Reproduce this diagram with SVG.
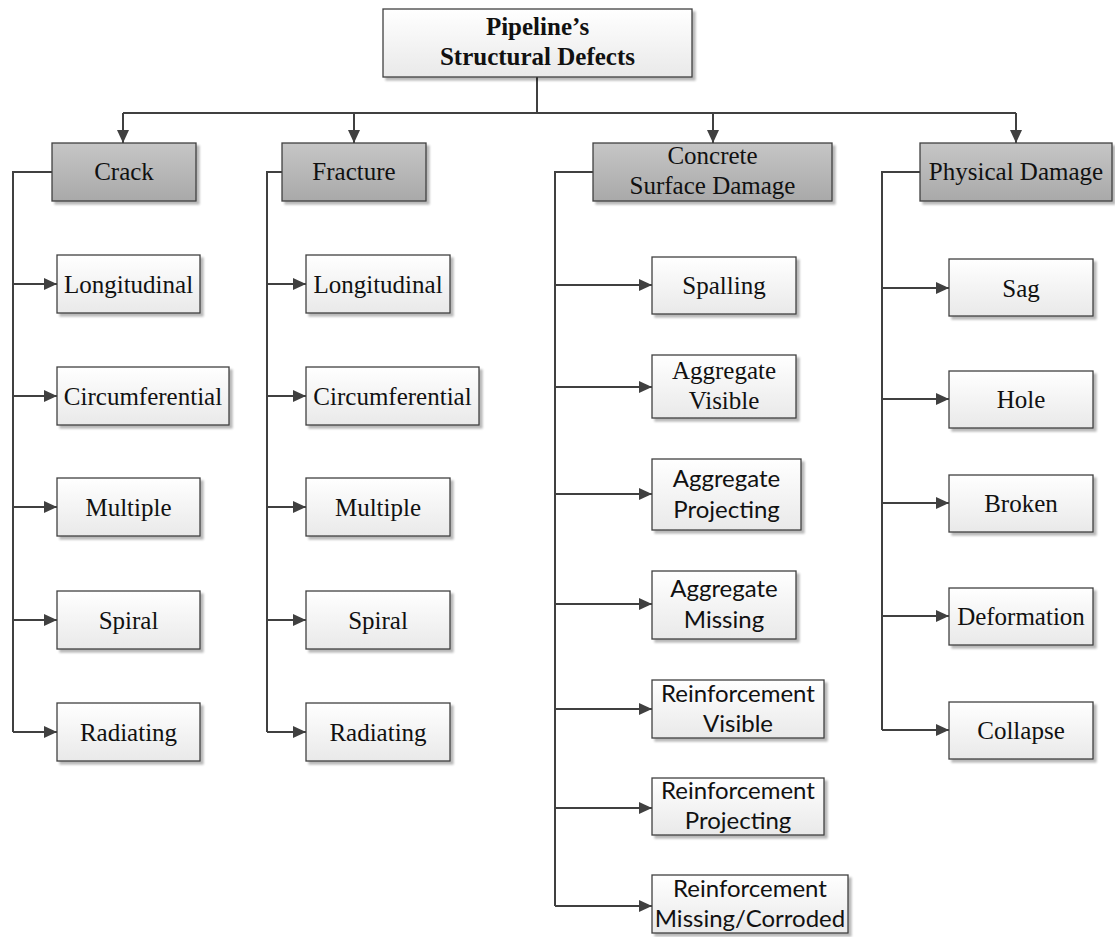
<svg xmlns="http://www.w3.org/2000/svg" width="1115" height="937" viewBox="0 0 1115 937">
  <defs>
    <linearGradient id="gLight" x1="0" y1="0" x2="0" y2="1">
      <stop offset="0" stop-color="#ffffff"/>
      <stop offset="1" stop-color="#e9e9e9"/>
    </linearGradient>
    <linearGradient id="gDark" x1="0" y1="0" x2="0" y2="1">
      <stop offset="0" stop-color="#c6c6c6"/>
      <stop offset="1" stop-color="#a9a9a9"/>
    </linearGradient>
    <filter id="shadow" x="-10%" y="-10%" width="130%" height="140%">
      <feGaussianBlur in="SourceAlpha" stdDeviation="1"/>
      <feOffset dx="3" dy="3" result="o"/>
      <feComponentTransfer><feFuncA type="linear" slope="0.28"/></feComponentTransfer>
      <feMerge><feMergeNode/><feMergeNode in="SourceGraphic"/></feMerge>
    </filter>
    <marker id="arrow" viewBox="0 0 13 12" refX="13" refY="6" markerWidth="13" markerHeight="12" markerUnits="userSpaceOnUse" orient="auto">
      <path d="M0,0 L13,6 L0,12 z" fill="#404040"/>
    </marker>
    <style>
      .box { fill: url(#gLight); stroke: #404040; stroke-width: 1.3; filter: url(#shadow); }
      .cat { fill: url(#gDark); stroke: #404040; stroke-width: 1.3; filter: url(#shadow); }
      .serif { font-family: "Liberation Serif", "Times New Roman", serif; font-size: 25px; fill: #111; text-anchor: middle; }
      .bold { font-weight: bold; }
      .sans { font-family: Lato, "Open Sans", sans-serif; font-size: 24px; fill: #111; text-anchor: middle; }
      .wire { fill: none; stroke: #404040; stroke-width: 2; }
      .arr { fill: none; stroke: #404040; stroke-width: 2; marker-end: url(#arrow); }
    </style>
  </defs>

  <rect width="1115" height="937" fill="#ffffff"/>

  <!-- connectors -->
  <g id="connectors">
    <path class="wire" d="M537,77 V113 M123,113 H1016"/>
    <path class="arr" d="M123,113 V143"/>
    <path class="arr" d="M354,113 V143"/>
    <path class="arr" d="M713,113 V143"/>
    <path class="arr" d="M1016,113 V143"/>

    <!-- Crack branch -->
    <path class="wire" d="M52,172 H13 V732"/>
    <path class="arr" d="M13,284 H57"/>
    <path class="arr" d="M13,396 H57"/>
    <path class="arr" d="M13,507 H57"/>
    <path class="arr" d="M13,620 H57"/>
    <path class="arr" d="M13,732 H57"/>

    <!-- Fracture branch -->
    <path class="wire" d="M282,172 H267 V732"/>
    <path class="arr" d="M267,284 H306"/>
    <path class="arr" d="M267,396 H306"/>
    <path class="arr" d="M267,507 H306"/>
    <path class="arr" d="M267,620 H306"/>
    <path class="arr" d="M267,732 H306"/>

    <!-- Concrete surface damage branch -->
    <path class="wire" d="M593,172 H555 V906"/>
    <path class="arr" d="M555,285 H652"/>
    <path class="arr" d="M555,387 H652"/>
    <path class="arr" d="M555,494 H652"/>
    <path class="arr" d="M555,604 H652"/>
    <path class="arr" d="M555,709 H652"/>
    <path class="arr" d="M555,808 H652"/>
    <path class="arr" d="M555,906 H652"/>

    <!-- Physical damage branch -->
    <path class="wire" d="M920,172 H882 V730"/>
    <path class="arr" d="M882,288 H949"/>
    <path class="arr" d="M882,399 H949"/>
    <path class="arr" d="M882,503 H949"/>
    <path class="arr" d="M882,616 H949"/>
    <path class="arr" d="M882,730 H949"/>
  </g>

  <!-- root -->
  <g id="root">
    <rect class="box" x="383" y="9" width="309" height="68"/>
    <text class="serif bold" x="537.5" y="35">Pipeline’s</text>
    <text class="serif bold" x="537.5" y="65">Structural Defects</text>
  </g>

  <!-- categories -->
  <g id="crack">
    <rect class="cat" x="52" y="143" width="144" height="58"/>
    <text class="serif" x="124" y="180">Crack</text>
  </g>
  <g id="fracture">
    <rect class="cat" x="282" y="143" width="144" height="58"/>
    <text class="serif" x="354" y="180">Fracture</text>
  </g>
  <g id="concrete">
    <rect class="cat" x="593" y="143" width="239" height="58"/>
    <text class="serif" x="712.5" y="164">Concrete</text>
    <text class="serif" x="712.5" y="194">Surface Damage</text>
  </g>
  <g id="physical">
    <rect class="cat" x="920" y="143" width="192" height="58"/>
    <text class="serif" x="1016" y="180">Physical Damage</text>
  </g>

  <!-- crack types -->
  <g id="crack-longitudinal">
    <rect class="box" x="57" y="255" width="143" height="58"/>
    <text class="serif" x="128.5" y="293">Longitudinal</text>
  </g>
  <g id="crack-circumferential">
    <rect class="box" x="57" y="367" width="172" height="58"/>
    <text class="serif" x="143" y="405">Circumferential</text>
  </g>
  <g id="crack-multiple">
    <rect class="box" x="57" y="478" width="143" height="58"/>
    <text class="serif" x="128.5" y="516">Multiple</text>
  </g>
  <g id="crack-spiral">
    <rect class="box" x="57" y="591" width="143" height="58"/>
    <text class="serif" x="128.5" y="629">Spiral</text>
  </g>
  <g id="crack-radiating">
    <rect class="box" x="57" y="703" width="143" height="58"/>
    <text class="serif" x="128.5" y="741">Radiating</text>
  </g>

  <!-- fracture types -->
  <g id="fracture-longitudinal">
    <rect class="box" x="306" y="255" width="144" height="58"/>
    <text class="serif" x="378" y="293">Longitudinal</text>
  </g>
  <g id="fracture-circumferential">
    <rect class="box" x="306" y="367" width="173" height="58"/>
    <text class="serif" x="392.5" y="405">Circumferential</text>
  </g>
  <g id="fracture-multiple">
    <rect class="box" x="306" y="478" width="144" height="58"/>
    <text class="serif" x="378" y="516">Multiple</text>
  </g>
  <g id="fracture-spiral">
    <rect class="box" x="306" y="591" width="144" height="58"/>
    <text class="serif" x="378" y="629">Spiral</text>
  </g>
  <g id="fracture-radiating">
    <rect class="box" x="306" y="703" width="144" height="58"/>
    <text class="serif" x="378" y="741">Radiating</text>
  </g>

  <!-- concrete surface damage types -->
  <g id="spalling">
    <rect class="box" x="652" y="257" width="144" height="57"/>
    <text class="serif" x="724" y="294">Spalling</text>
  </g>
  <g id="aggregate-visible">
    <rect class="box" x="652" y="355" width="144" height="63"/>
    <text class="serif" x="724" y="379">Aggregate</text>
    <text class="serif" x="724" y="409">Visible</text>
  </g>
  <g id="aggregate-projecting">
    <rect class="box" x="652" y="459" width="149" height="71"/>
    <text class="sans" x="726.5" y="487">Aggregate</text>
    <text class="sans" x="726.5" y="518">Projecting</text>
  </g>
  <g id="aggregate-missing">
    <rect class="box" x="652" y="571" width="144" height="68"/>
    <text class="sans" x="724" y="597">Aggregate</text>
    <text class="sans" x="724" y="628">Missing</text>
  </g>
  <g id="reinforcement-visible">
    <rect class="box" x="652" y="680" width="172" height="58"/>
    <text class="sans" x="738" y="702">Reinforcement</text>
    <text class="sans" x="738" y="732">Visible</text>
  </g>
  <g id="reinforcement-projecting">
    <rect class="box" x="652" y="778" width="172" height="57"/>
    <text class="sans" x="738" y="799">Reinforcement</text>
    <text class="sans" x="738" y="829">Projecting</text>
  </g>
  <g id="reinforcement-missing">
    <rect class="box" x="652" y="875" width="196" height="58"/>
    <text class="sans" x="750" y="897">Reinforcement</text>
    <text class="sans" x="750" y="927">Missing/Corroded</text>
  </g>

  <!-- physical damage types -->
  <g id="sag">
    <rect class="box" x="949" y="259" width="144" height="57"/>
    <text class="serif" x="1021" y="297">Sag</text>
  </g>
  <g id="hole">
    <rect class="box" x="949" y="371" width="144" height="57"/>
    <text class="serif" x="1021" y="408">Hole</text>
  </g>
  <g id="broken">
    <rect class="box" x="949" y="475" width="144" height="57"/>
    <text class="serif" x="1021" y="512">Broken</text>
  </g>
  <g id="deformation">
    <rect class="box" x="949" y="588" width="144" height="57"/>
    <text class="serif" x="1021" y="625">Deformation</text>
  </g>
  <g id="collapse">
    <rect class="box" x="949" y="702" width="144" height="57"/>
    <text class="serif" x="1021" y="739">Collapse</text>
  </g>
</svg>
